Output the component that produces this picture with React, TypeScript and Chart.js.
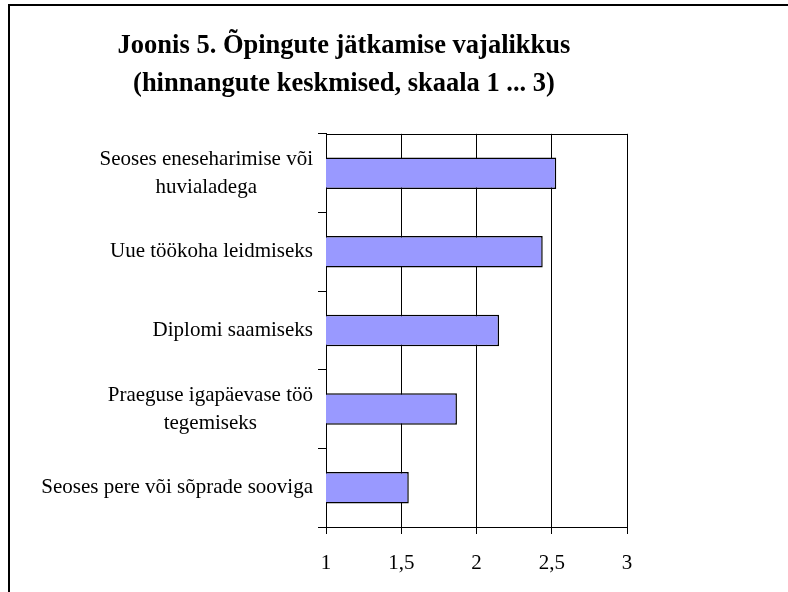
import React, { useEffect, useRef } from 'react';
import { Chart, registerables } from 'chart.js';

Chart.register(...registerables);

const categories: string[][] = [
  ['Seoses eneseharimise või', 'huvialadega'],
  ['Uue töökoha leidmiseks'],
  ['Diplomi saamiseks'],
  ['Praeguse igapäevase töö', 'tegemiseks'],
  ['Seoses pere või sõprade sooviga'],
];
const values: number[] = [2.53, 2.44, 2.15, 1.87, 1.55];
const xTicks: number[] = [1, 1.5, 2, 2.5, 3];
const titleLines: string[] = [
  'Joonis 5. Õpingute jätkamise vajalikkus',
  '(hinnangute keskmised, skaala 1 ... 3)',
];

const FONT = '"Liberation Serif", "Times New Roman", serif';
const LABEL_SIZE = 21;

const yLabelPlugin = {
  id: 'yLabels',
  afterDraw(chart: any) {
    const ctx = chart.ctx as CanvasRenderingContext2D;
    const yScale = chart.scales.y;
    const area = chart.chartArea;
    ctx.save();
    ctx.font = `${LABEL_SIZE}px ${FONT}`;
    ctx.fillStyle = '#000';
    ctx.textBaseline = 'middle';
    ctx.textAlign = 'center';
    const rightEdge = area.left - 13;
    const lineGap = 28;
    categories.forEach((lines, i) => {
      const cy = yScale.getPixelForTick(i);
      const maxW = Math.max(...lines.map((l) => ctx.measureText(l).width));
      const cx = rightEdge - maxW / 2;
      lines.forEach((l, j) => {
        ctx.fillText(l, cx, cy + (j - (lines.length - 1) / 2) * lineGap);
      });
    });
    ctx.restore();
  },
};

const frameTopPlugin = {
  id: 'frameTop',
  afterDraw(chart: any) {
    const ctx = chart.ctx as CanvasRenderingContext2D;
    const a = chart.chartArea;
    ctx.save();
    ctx.strokeStyle = '#000';
    ctx.lineWidth = 1;
    ctx.beginPath();
    const y = Math.round(a.top) + 0.5;
    ctx.moveTo(a.left, y);
    ctx.lineTo(a.right, y);
    ctx.stroke();
    ctx.restore();
  },
};

export default function App() {
  const ref = useRef<HTMLCanvasElement | null>(null);

  useEffect(() => {
    if (!ref.current) return;
    const chart = new Chart(ref.current, {
      type: 'bar',
      data: {
        labels: categories,
        datasets: [
          {
            data: values,
            backgroundColor: '#9999FF',
            borderColor: '#000',
            borderWidth: 1.5,
            borderSkipped: false,
            barPercentage: 0.4,
            categoryPercentage: 1,
          },
        ],
      },
      options: {
        indexAxis: 'y',
        animation: false,
        responsive: false,
        devicePixelRatio: 1,
        layout: { padding: { left: 61, right: 161, top: 0, bottom: 0 } },
        plugins: {
          legend: { display: false },
          tooltip: { enabled: false },
          title: {
            display: true,
            text: titleLines,
            color: '#000',
            font: { family: FONT, size: 26.5, weight: 'bold', lineHeight: 1.45 },
            padding: { top: 27, bottom: 30 },
          },
        },
        scales: {
          x: {
            type: 'linear',
            min: 1,
            max: 3,
            afterBuildTicks: (s: any) => {
              s.ticks = xTicks.map((v) => ({ value: v }));
            },
            afterFit: (s: any) => {
              s.height = 65;
            },
            ticks: {
              color: '#000',
              font: { family: FONT, size: LABEL_SIZE },
              padding: 17,
              maxRotation: 0,
              callback: (v: any) => String(v).replace('.', ','),
            },
            grid: { color: '#000', lineWidth: 1, tickLength: 7, drawOnChartArea: true },
            border: { color: '#000', width: 1 },
          },
          y: {
            type: 'category',
            afterFit: (s: any) => {
              s.width = 265;
            },
            ticks: { display: false },
            grid: { offset: true, drawOnChartArea: false, color: '#000', tickLength: 8 },
            border: { color: '#000', width: 1 },
          },
        },
      },
      plugins: [yLabelPlugin, frameTopPlugin],
    } as any);
    return () => chart.destroy();
  }, []);

  return (
    <div
      style={{
        position: 'fixed',
        left: 0,
        top: 0,
        width: 788,
        height: 592,
        overflow: 'hidden',
        background: '#fff',
      }}
    >
      <div
        style={{
          position: 'absolute',
          left: 8,
          top: 4,
          width: 900,
          height: 700,
          borderLeft: '2px solid #000',
          borderTop: '2px solid #000',
          boxSizing: 'border-box',
        }}
      />
      <canvas
        ref={ref}
        width={788}
        height={592}
        style={{ position: 'absolute', left: 0, top: 0, width: 788, height: 592 }}
      />
    </div>
  );
}
